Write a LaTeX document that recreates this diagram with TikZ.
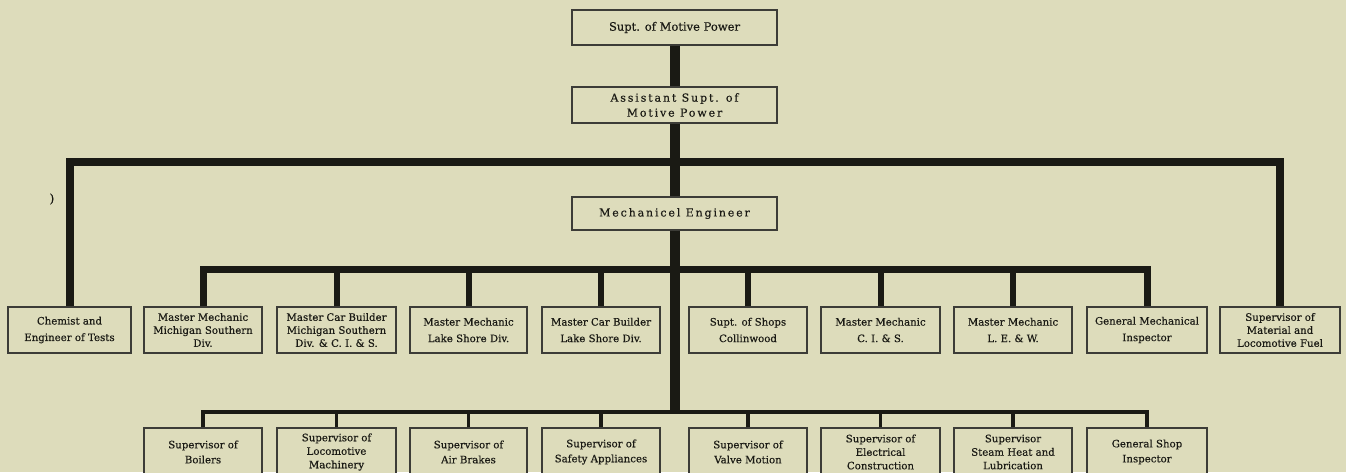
\documentclass[tikz,border=0pt]{standalone}
\usepackage{fontspec}
\setmainfont{DejaVu Serif}[FakeBold=0.4]
\newfontfamily\spacedfont{DejaVu Serif}[LetterSpace=17,FakeBold=0.4]
\definecolor{bg}{RGB}{221,220,187}
\definecolor{ink}{RGB}{26,26,20}
\begin{document}
\begin{tikzpicture}[x=1pt,y=-1pt,
  box/.style={draw=ink!85, line width=1.2pt, fill=bg, inner sep=0pt, align=center, text=ink},
  topbox/.style={box, minimum width=205pt},
  rowbox/.style={box, minimum height=46pt},
  lowbox/.style={box, minimum height=48pt},
  twoline/.style={font=\fontsize{10.2}{16.5}\selectfont},
  threeline/.style={font=\fontsize{10.2}{13}\selectfont},
  lowtwo/.style={font=\fontsize{10.2}{15}\selectfont},
  lowthree/.style={font=\fontsize{10.2}{13.5}\selectfont},
  trunk/.style={draw=ink, line width=10pt},
  bus/.style={draw=ink, line width=8pt, line join=miter},
  midbus/.style={draw=ink, line width=7pt, line join=miter},
  midleg/.style={draw=ink, line width=6pt},
  lowbus/.style={draw=ink, line width=3.5pt, line join=miter}
]
\fill[bg] (0,0) rectangle (1346,472);
\useasboundingbox (0,0) rectangle (1346,472);

% top chain
\node[topbox, minimum height=35pt, font=\fontsize{11.5}{14}\selectfont] (supt) at (674.5,27.5) {Supt. of Motive Power};
\node[topbox, minimum height=36pt, font=\fontsize{11}{15}\selectfont\spacedfont] (asst) at (674.5,105) {Assistant Supt. of\\Motive Power};
\node[topbox, minimum height=33pt, font=\fontsize{11}{14}\selectfont\spacedfont] (mech) at (674.5,213.5) {Mechanicel Engineer};

% first row
\node[rowbox, twoline, minimum width=123pt] (c1) at (69.5,330) {Chemist and\\Engineer of Tests};
\node[rowbox, threeline, minimum width=118pt] (c2) at (203,330) {Master Mechanic\\Michigan Southern\\Div.};
\node[rowbox, threeline, minimum width=119pt] (c3) at (336.5,330) {Master Car Builder\\Michigan Southern\\Div. \& C. I. \& S.};
\node[rowbox, twoline, minimum width=117pt] (c4) at (468.5,330) {Master Mechanic\\Lake Shore Div.};
\node[rowbox, twoline, minimum width=118pt] (c5) at (601,330) {Master Car Builder\\Lake Shore Div.};
\node[rowbox, twoline, minimum width=118pt] (c6) at (748,330) {Supt. of Shops\\Collinwood};
\node[rowbox, twoline, minimum width=119pt] (c7) at (880.5,330) {Master Mechanic\\C. I. \& S.};
\node[rowbox, twoline, minimum width=118pt] (c8) at (1013,330) {Master Mechanic\\L. E. \& W.};
\node[rowbox, twoline, minimum width=120pt] (c9) at (1147,330) {General Mechanical\\Inspector};
\node[rowbox, threeline, minimum width=120pt] (c10) at (1280,330) {Supervisor of\\Material and\\Locomotive Fuel};

% lower row
\node[lowbox, lowtwo, minimum width=118pt] (b1) at (203,452) {Supervisor of\\Boilers};
\node[lowbox, lowthree, minimum width=119pt] (b2) at (336.5,452) {Supervisor of\\Locomotive\\Machinery};
\node[lowbox, lowtwo, minimum width=117pt] (b3) at (468.5,452) {Supervisor of\\Air Brakes};
\node[lowbox, lowtwo, minimum width=118pt] (b4) at (601,452) {Supervisor of\\Safety Appliances};
\node[lowbox, lowtwo, minimum width=118pt] (b5) at (748,452) {Supervisor of\\Valve Motion};
\node[lowbox, lowthree, minimum width=119pt] (b6) at (880.5,452) {Supervisor of\\Electrical\\Construction};
\node[lowbox, lowthree, minimum width=118pt] (b7) at (1013,452) {Supervisor\\Steam Heat and\\Lubrication};
\node[lowbox, lowtwo, minimum width=120pt] (b8) at (1147,452) {General Shop\\Inspector};

% stray mark
\node[text=ink, font=\fontsize{12}{12}\selectfont, inner sep=0pt] (mark) at (52,199) {)};

% junctions
\coordinate (h1) at (674.5,162);
\coordinate (h2) at (674.5,269);
\coordinate (h3) at (674.5,412);

% connectors
\draw[trunk] (supt.south) -- (asst.north);
\draw[trunk] (asst.south) -- (mech.north);
\draw[trunk] (mech.south) -- (h3);
\draw[bus] (c1.north) |- (h1) -| (c10.north);
\draw[midbus] (c2.north) |- (h2) -| (c9.north);
\foreach \n in {c3,c4,c5,c6,c7,c8} \draw[midleg] (\n.north) -- (\n.north |- h2);
\draw[lowbus] (b1.north) |- (h3) -| (b8.north);
\foreach \n in {b2,b3,b4,b5,b6,b7} \draw[lowbus] (\n.north) -- (\n.north |- h3);
\end{tikzpicture}
\end{document}
